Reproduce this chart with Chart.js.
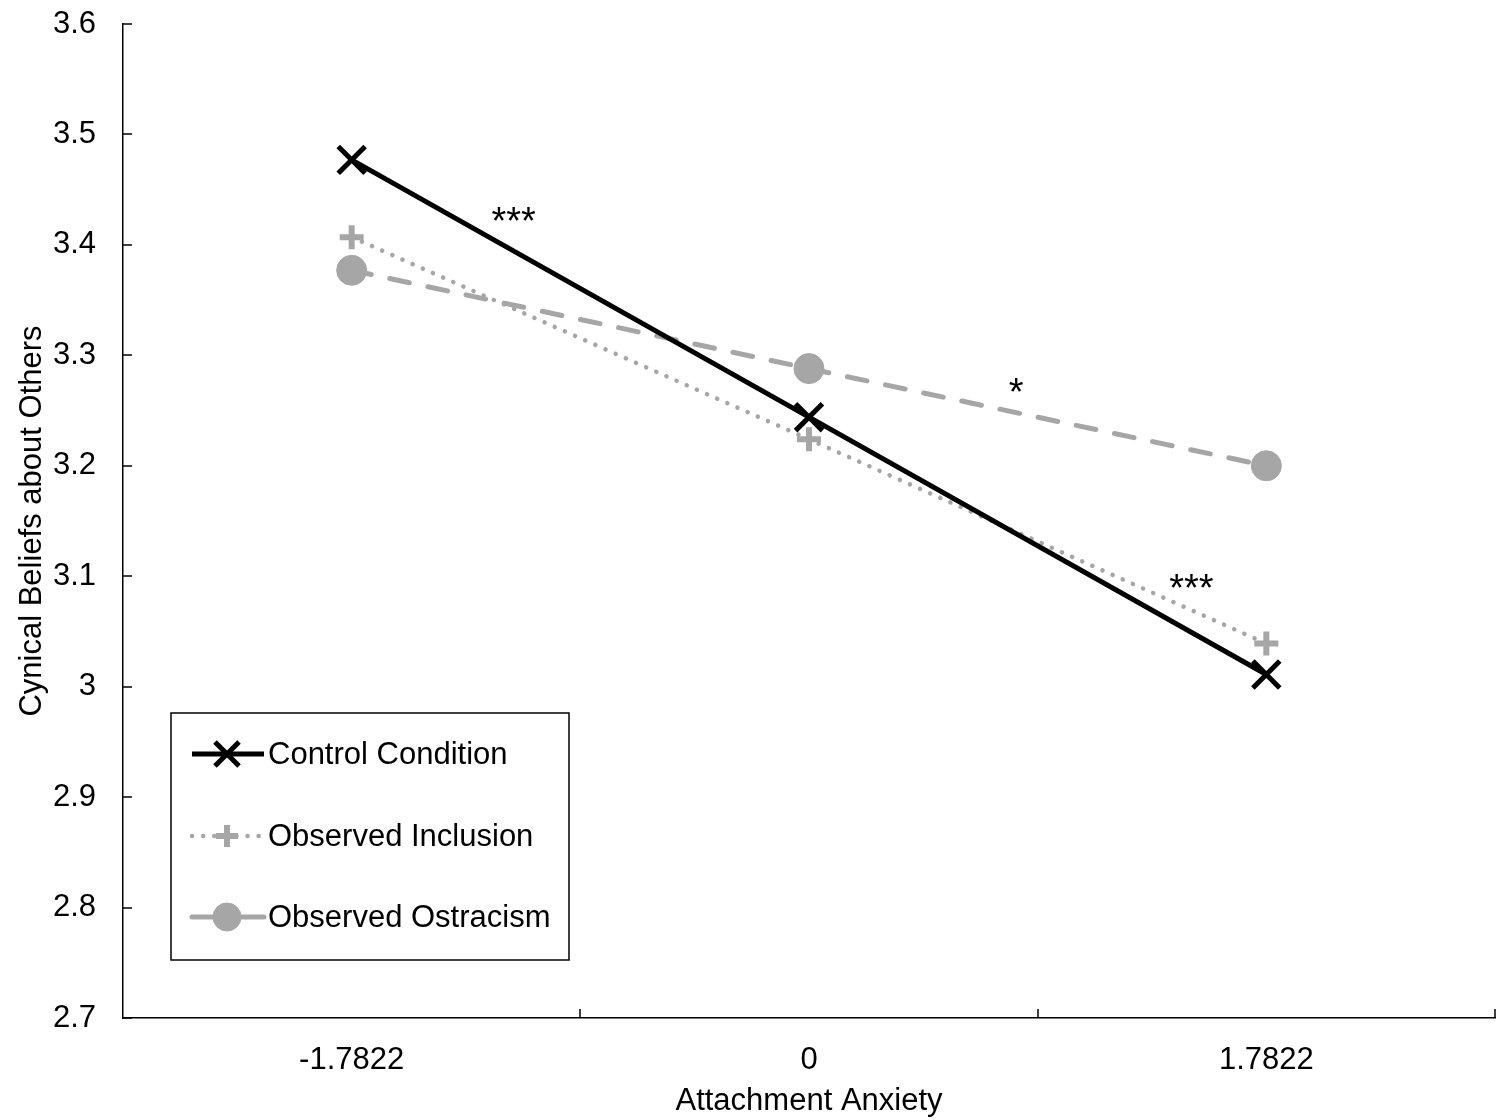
<!DOCTYPE html>
<html>
<head>
<meta charset="utf-8">
<script src="https://cdn.jsdelivr.net/npm/chart.js@4.4.1/dist/chart.umd.min.js"></script>
<style>
  html, body { margin: 0; padding: 0; background: #fff; overflow: hidden; }
  #wrap { width: 1507px; height: 1120px; overflow: hidden; }
</style>
</head>
<body>
<div id="wrap"><canvas id="chart" width="1519" height="1120"></canvas></div>
<script>
// data
const categories = ['-1.7822', '0', '1.7822'];
const controlValues = [3.477, 3.244, 3.011];
const inclusionValues = [3.407, 3.224, 3.039];
const ostracismValues = [3.377, 3.288, 3.200];
const yTicks = [2.7, 2.8, 2.9, 3.0, 3.1, 3.2, 3.3, 3.4, 3.5, 3.6];

// significance marks: [category position, value, text]
const sigMarks = [
    [0.354, 3.428, '***'],
    [1.453, 3.274, '*'],
    [1.836, 3.096, '***']
];

const FONT = "'Liberation Sans', Arial, sans-serif";
const GREY = '#a6a6a6';

// category position (may be fractional) -> pixel
function catPixel(scale, pos) {
    const i = Math.floor(pos);
    const step = scale.getPixelForValue(1) - scale.getPixelForValue(0);
    return scale.getPixelForValue(0) + step * i + step * (pos - i);
}

// inward tick marks on both axes
const tickPlugin = {
    id: 'innerTicks',
    afterDraw: function (chart) {
        const ctx = chart.ctx;
        const x = chart.scales.x, y = chart.scales.y;
        const area = chart.chartArea;
        ctx.save();
        ctx.strokeStyle = '#000';
        ctx.lineWidth = 1.5;
        yTicks.forEach(v => {
            const py = Math.round(y.getPixelForValue(v));
            ctx.beginPath();
            ctx.moveTo(area.left, py);
            ctx.lineTo(area.left + 9, py);
            ctx.stroke();
        });
        for (let i = 0; i < categories.length; i++) {
            const px = Math.round(catPixel(x, i + 0.5));
            ctx.beginPath();
            ctx.moveTo(px, area.bottom);
            ctx.lineTo(px, area.bottom - 9);
            ctx.stroke();
        }
        ctx.restore();
    }
};

// asterisks
const sigPlugin = {
    id: 'sigMarks',
    afterDatasetsDraw: function (chart) {
        const ctx = chart.ctx;
        const x = chart.scales.x, y = chart.scales.y;
        ctx.save();
        ctx.fillStyle = '#000';
        ctx.font = "38px 'Liberation Sans', Arial, sans-serif";
        ctx.textAlign = 'center';
        ctx.textBaseline = 'middle';
        sigMarks.forEach(m => {
            ctx.fillText(m[2], catPixel(x, m[0]), y.getPixelForValue(m[1]) + 10);
        });
        ctx.restore();
    }
};

function drawMarker(ctx, ds, x, y) {
    ctx.save();
    ctx.fillStyle = ds.pointBackgroundColor;
    ctx.strokeStyle = ds.pointBorderColor;
    ctx.lineWidth = ds.pointBorderWidth;
    Chart.helpers.drawPoint(ctx, {
        pointStyle: ds.pointStyle,
        radius: ds.legendRadius || ds.pointRadius,
        borderWidth: ds.pointBorderWidth,
        rotation: 0
    }, x, y);
    ctx.restore();
}

// boxed legend inside the plot
const legendPlugin = {
    id: 'boxLegend',
    afterDraw: function (chart) {
        const ctx = chart.ctx;
        const area = chart.chartArea;
        const bx = area.left + 48, by = 713, bw = 398, bh = 247;
        ctx.save();
        ctx.fillStyle = '#fff';
        ctx.fillRect(bx, by, bw, bh);
        ctx.strokeStyle = '#000';
        ctx.lineWidth = 1.5;
        ctx.strokeRect(bx, by, bw, bh);
        const rows = [754, 836, 917];
        chart.data.datasets.forEach((ds, i) => {
            const ly = rows[i];
            ctx.save();
            ctx.strokeStyle = ds.borderColor;
            ctx.lineWidth = ds.borderWidth;
            ctx.lineCap = ds.borderCapStyle || 'butt';
            ctx.setLineDash(ds.legendDash || []);
            ctx.beginPath();
            ctx.moveTo(bx + 21, ly);
            ctx.lineTo(bx + 93, ly);
            ctx.stroke();
            ctx.restore();
            drawMarker(ctx, ds, bx + 56, ly);
            ctx.fillStyle = '#000';
            ctx.font = '31px ' + FONT;
            ctx.textAlign = 'left';
            ctx.textBaseline = 'middle';
            ctx.fillText(ds.label, bx + 97, ly + 1);
        });
        ctx.restore();
    }
};

new Chart(document.getElementById('chart'), {
    type: 'line',
    data: {
        labels: categories,
        datasets: [
            {
                label: 'Control Condition',
                data: controlValues,
                borderColor: '#000',
                borderWidth: 5,
                pointStyle: 'crossRot',
                pointRadius: 19,
                legendRadius: 17,
                pointBorderWidth: 5,
                pointBorderColor: '#000',
                pointBackgroundColor: '#000',
                borderCapStyle: 'butt'
            },
            {
                label: 'Observed Inclusion',
                data: inclusionValues,
                borderColor: GREY,
                borderWidth: 4.5,
                borderDash: [0.1, 11],
                legendDash: [0.1, 11],
                borderCapStyle: 'round',
                pointStyle: 'cross',
                pointRadius: 12,
                legendRadius: 11,
                pointBorderWidth: 6,
                pointBorderColor: GREY,
                pointBackgroundColor: GREY
            },
            {
                label: 'Observed Ostracism',
                data: ostracismValues,
                borderColor: GREY,
                borderWidth: 5,
                borderDash: [20, 19],
                legendDash: [],
                borderCapStyle: 'round',
                pointStyle: 'circle',
                pointRadius: 15,
                legendRadius: 14,
                pointBorderWidth: 1,
                pointBorderColor: GREY,
                pointBackgroundColor: GREY
            }
        ]
    },
    options: {
        responsive: false,
        animation: false,
        events: [],
        layout: { padding: 0 },
        plugins: {
            legend: { display: false },
            tooltip: { enabled: false }
        },
        scales: {
            x: {
                type: 'category',
                offset: true,
                grid: { display: false, drawTicks: false },
                border: { display: true, color: '#000', width: 1.5 },
                ticks: { color: '#000', font: { family: FONT, size: 31 }, padding: 24, maxRotation: 0 },
                title: { display: true, text: 'Attachment Anxiety', color: '#000',
                         font: { family: FONT, size: 31 }, padding: { top: 4, bottom: 0 } },
                afterFit: s => { s.height = 102; s.paddingLeft = 0; s.paddingRight = 0; }
            },
            y: {
                min: 2.7,
                max: 3.6,
                grid: { display: false, drawTicks: false },
                border: { display: true, color: '#000', width: 1.5 },
                afterBuildTicks: s => { s.ticks = yTicks.map(v => ({ value: v })); },
                ticks: { color: '#000', font: { family: FONT, size: 31 }, padding: 27,
                         callback: v => String(Math.round(v * 10) / 10) },
                title: { display: true, text: 'Cynical Beliefs about Others', color: '#000',
                         font: { family: FONT, size: 31 }, padding: { top: 14, bottom: 0 } },
                afterFit: s => { s.width = 123; s.paddingTop = 22; s.paddingBottom = 0; }
            }
        }
    },
    plugins: [tickPlugin, sigPlugin, legendPlugin]
});
</script>
</body>
</html>
